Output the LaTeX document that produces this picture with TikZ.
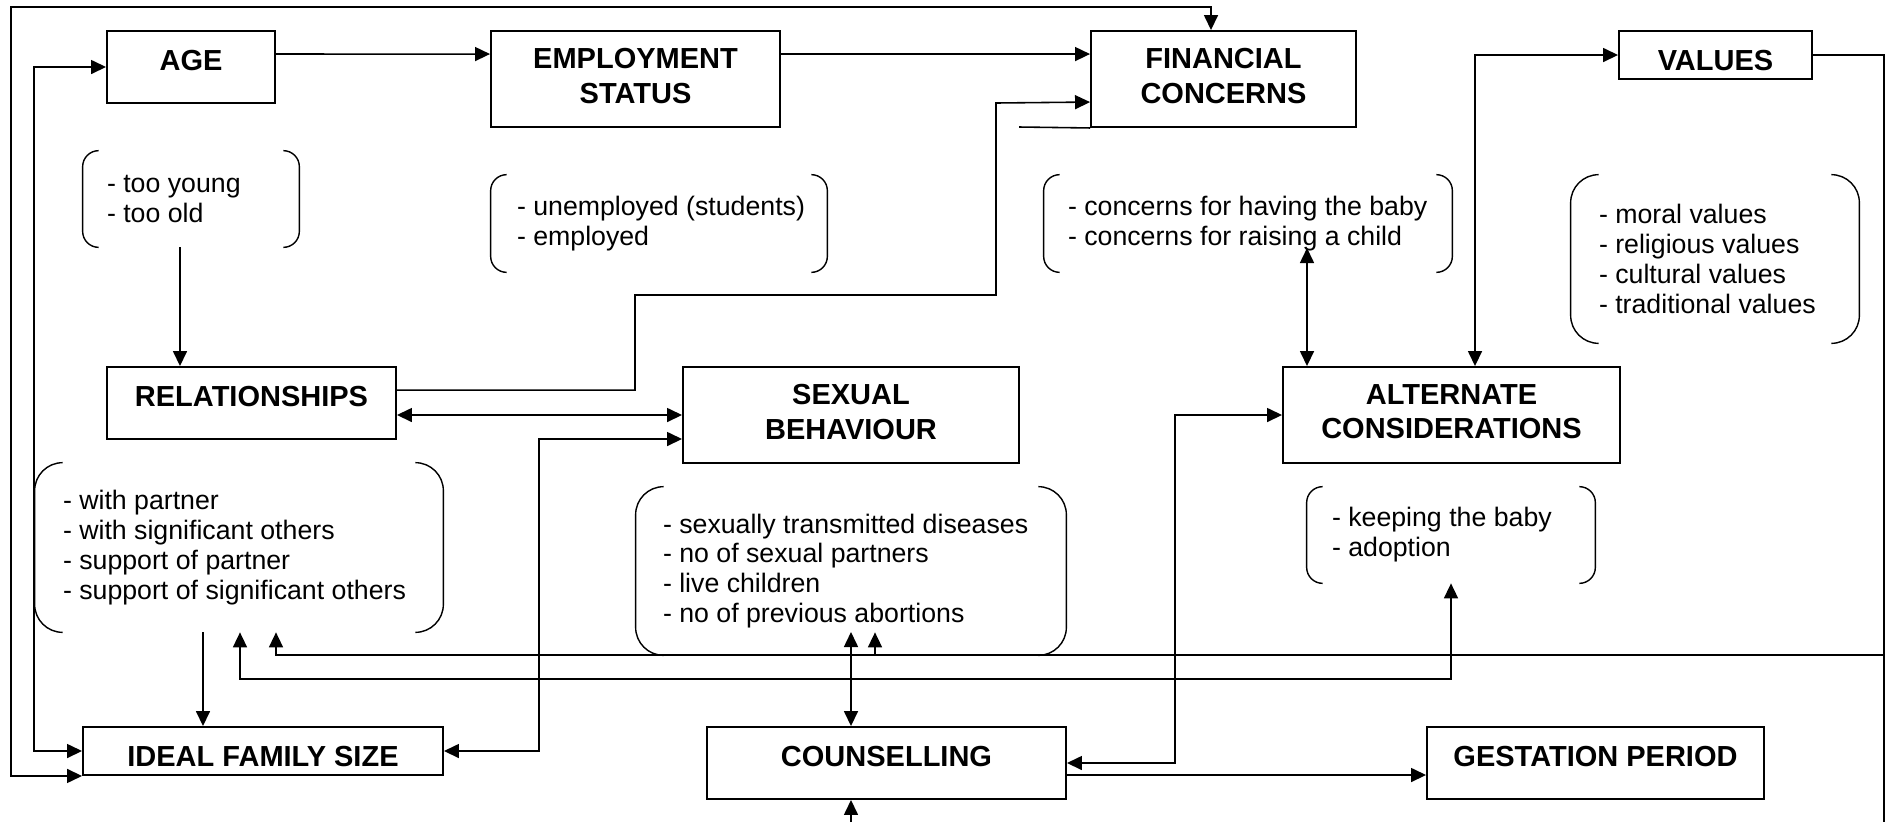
\documentclass[tikz,border=0pt]{standalone}
\usepackage{fontspec}
\setmainfont{Liberation Sans}
\usetikzlibrary{calc,arrows.meta}

\begin{document}
\begin{tikzpicture}[
    box/.style={draw,line width=1.1pt,inner sep=0pt,font=\bfseries\fontsize{16.5}{19.9}\selectfont},
    tallbox/.style={box,text depth=0.26cm},
    flatbox/.style={box,text height=0.6cm,text depth=0cm},
    twobox/.style={box,align=center,text depth=0.14cm},
    bracket/.style={inner sep=0pt},
    notetext/.style={anchor=west,inner sep=0pt,align=left,font=\fontsize{15.2}{17}\selectfont},
    con/.style={line width=0.9pt},
    >={Triangle[length=0.3cm,width=0.28cm]}]
  \useasboundingbox (0,0) rectangle (37.78,-16.44);
  % main boxes
  \node[tallbox,minimum width=3.36cm,minimum height=1.44cm] (age) at (3.82,-1.34) {AGE};
  \node[twobox,minimum width=5.78cm,minimum height=1.92cm] (emp) at (12.71,-1.58) {EMPLOYMENT\\STATUS};
  \node[twobox,minimum width=5.30cm,minimum height=1.92cm] (fin) at (24.47,-1.58) {FINANCIAL\\CONCERNS};
  \node[flatbox,minimum width=3.86cm,minimum height=0.96cm] (val) at (34.31,-1.10) {VALUES};
  \node[tallbox,minimum width=5.78cm,minimum height=1.44cm] (rel) at (5.03,-8.06) {RELATIONSHIPS};
  \node[twobox,minimum width=6.72cm,minimum height=1.92cm] (sex) at (17.02,-8.30) {SEXUAL\\BEHAVIOUR};
  \node[twobox,minimum width=6.74cm,minimum height=1.92cm] (alt) at (29.03,-8.30) {ALTERNATE\\CONSIDERATIONS};
  \node[flatbox,minimum width=7.20cm,minimum height=0.96cm] (ideal) at (5.26,-15.02) {IDEAL FAMILY SIZE};
  \node[tallbox,minimum width=7.18cm,minimum height=1.44cm] (coun) at (17.73,-15.26) {COUNSELLING};
  \node[tallbox,minimum width=6.74cm,minimum height=1.44cm] (gest) at (31.91,-15.26) {GESTATION PERIOD};
  % brackets
  \node[bracket,minimum width=4.32cm,minimum height=1.92cm] (agel) at (3.82,-3.98) {};
  \node[bracket,minimum width=6.72cm,minimum height=1.94cm] (empl) at (13.18,-4.47) {};
  \node[bracket,minimum width=8.16cm,minimum height=1.94cm] (finl) at (24.96,-4.47) {};
  \node[bracket,minimum width=5.76cm,minimum height=3.36cm] (vall) at (34.30,-5.18) {};
  \node[bracket,minimum width=8.16cm,minimum height=3.38cm] (rell) at (4.78,-10.95) {};
  \node[bracket,minimum width=8.60cm,minimum height=3.36cm] (sexl) at (17.02,-11.42) {};
  \node[bracket,minimum width=5.76cm,minimum height=1.92cm] (altl) at (29.02,-10.70) {};
  \foreach \n/\r in {agel/0.32cm,empl/0.32cm,finl/0.32cm,vall/0.56cm,rell/0.56cm,sexl/0.56cm,altl/0.32cm}
  {
    \draw[line width=0.8pt,rounded corners=\r] ($(\n.north west)+(\r,0)$) -- (\n.north west) -- (\n.south west) -- ($(\n.south west)+(\r,0)$);
    \draw[line width=0.8pt,rounded corners=\r] ($(\n.north east)-(\r,0)$) -- (\n.north east) -- (\n.south east) -- ($(\n.south east)-(\r,0)$);
  }
  \node[notetext] (agelt) at ([xshift=0.48cm]agel.west) {- too young\\- too old};
  \node[notetext] (emplt) at ([xshift=0.52cm]empl.west) {- unemployed (students)\\- employed};
  \node[notetext] (finlt) at ([xshift=0.48cm]finl.west) {- concerns for having the baby\\- concerns for raising a child};
  \node[notetext] (vallt) at ([xshift=0.56cm]vall.west) {- moral values\\- religious values\\- cultural values\\- traditional values};
  \node[notetext] (rellt) at ([xshift=0.56cm]rell.west) {- with partner\\- with significant others\\- support of partner\\- support of significant others};
  \node[notetext] (sexlt) at ([xshift=0.54cm]sexl.west) {- sexually transmitted diseases\\- no of sexual partners\\- live children\\- no of previous abortions};
  \node[notetext] (altlt) at ([xshift=0.50cm]altl.west) {- keeping the baby\\- adoption};
  % connectors
  \draw[con,->] ([yshift=-0.48cm]age.north east) -- ([yshift=-0.48cm]emp.north west);
  \draw[con,->] ([yshift=-0.48cm]emp.north east) -- ([yshift=-0.48cm]fin.north west);
  \draw[con,->] ([yshift=-0.48cm]rel.north east) -| (12.70,-5.90) -| (19.92,-2.06) -- ([yshift=-1.44cm]fin.north west);
  \coordinate (stub) at (20.38,-2.54);
  \draw[con] (stub) -- (fin.south west);
  \draw[con,<->] ([xshift=-0.25cm]fin.north) |- (0.22,-0.14) |- (ideal.south west);
  \draw[con,<->] (age.west) -- ++(-1.44,0) |- (ideal.west);
  \draw[con,->] (3.60,0 |- agel.south) -- (3.60,0 |- rel.north);
  \draw[con,->] (4.06,0 |- rell.south) -- (4.06,0 |- ideal.north);
  \draw[con,<->] (rel.east |- sex.west) -- (sex.west);
  \draw[con,<->] (ideal.east) -| (10.78,-8.78) -- ([yshift=-0.48cm]sex.west);
  \draw[con,<->] (17.02,-12.64) -- (17.02,0 |- coun.north);
  \coordinate (cbot) at (17.02,-16.44);
  \draw[con,->] (cbot) -- (cbot |- coun.south);
  \draw[con,<->] (alt.west) -| (23.50,-15.26) -- (coun.east);
  \draw[con,->] ([yshift=-0.24cm]coun.east) -- ([yshift=-0.24cm]gest.west);
  \draw[con,<->] (val.west) -| (29.50,0 |- alt.north);
  \draw[con,<->] (26.14,-4.96) -- (26.14,0 |- alt.north);
  % values feed back
  \coordinate (vbot) at (37.68,-16.44);
  \draw[con] (val.east) -| (vbot);
  \draw[con,->] (37.68,-13.10) -| (5.52,0 |- rell.south);
  \draw[con,->] (17.50,-13.10) -- (17.50,0 |- rell.south);
  \draw[con,<->] (4.80,0 |- rell.south) |- (29.02,-13.58) -- (altl.south);
\end{tikzpicture}
\end{document}
